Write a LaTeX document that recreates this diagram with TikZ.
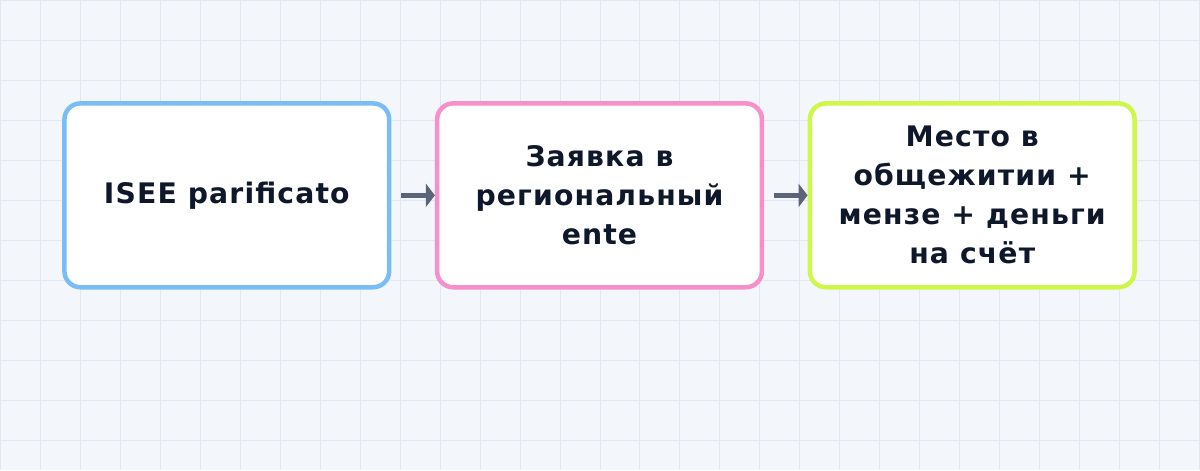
\documentclass[tikz,border=0pt]{standalone}
\usepackage{fontspec}
\setmainfont{DejaVu Sans}[LetterSpace=4]
\usetikzlibrary{arrows.meta}
\definecolor{bgpaper}{HTML}{F3F7FB}
\definecolor{gridline}{HTML}{E0E8F4}
\definecolor{inktext}{HTML}{0F172A}
\definecolor{arrowgray}{HTML}{5B6478}
\definecolor{isecol}{HTML}{7ABDF6}
\definecolor{entecol}{HTML}{F78FCA}
\definecolor{placecol}{HTML}{CFF74A}
\begin{document}
\begin{tikzpicture}[x=1pt,y=-1pt,
  stepbox/.style={draw=#1,fill=white,line width=4.5pt,rounded corners=16pt,
    minimum width=325pt,minimum height=184pt,align=center,text=inktext,
    font=\fontsize{28.3}{39}\selectfont\bfseries},
  flow/.style={draw=arrowgray,line width=5pt,-{Triangle[length=9pt,width=23pt]},shorten <=10pt}]
\fill[bgpaper] (0,0) rectangle (1200,470);
\draw[gridline,line width=1pt] (0,0) grid[step=40pt] (1200,470);
\useasboundingbox (0,0) rectangle (1200,470);
\node[stepbox=isecol] (isee) at (226.5,195) {ISEE parificato};
\node[stepbox=entecol] (ente) at (599.5,195) {Заявка в\\региональный\\ente};
\node[stepbox=placecol] (posto) at (972.5,195) {Место в\\общежитии +\\мензе + деньги\\на счёт};
\draw[flow] (isee) -- (ente);
\draw[flow] (ente) -- (posto);
\end{tikzpicture}
\end{document}
